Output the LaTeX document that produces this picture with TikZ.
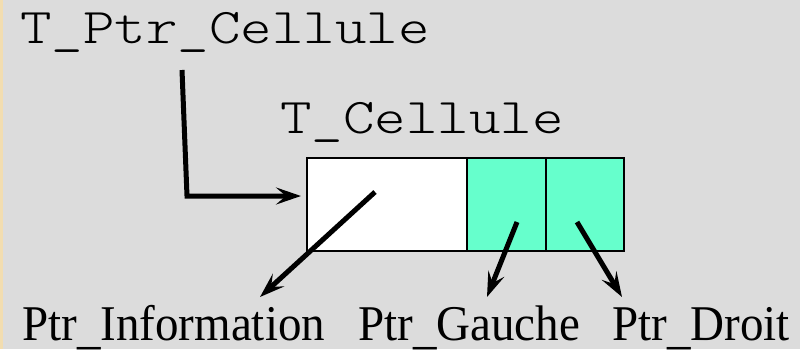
\documentclass[tikz,border=0pt]{standalone}
\usepackage{fontspec}
\setmainfont{Liberation Serif}
\newfontfamily\monof{Latin Modern Mono Light}
\usetikzlibrary{arrows.meta}
\definecolor{bggrey}{HTML}{DCDCDC}
\definecolor{beige}{HTML}{F2DDB0}
\definecolor{cellgreen}{HTML}{66FFCC}
\newcommand{\lowus}{\raisebox{-3pt}{\_}}
\tikzset{
  monolabel/.style={anchor=base west, inner sep=0pt, font=\monof\fontsize{50}{56}\selectfont},
  seriflabel/.style={anchor=base west, inner sep=0pt, font=\fontsize{50}{56}\selectfont},
  cellbox/.style={draw=black, line width=2pt, inner sep=0pt, minimum height=93pt},
  conn/.style={line width=5pt, -{Stealth[length=25pt,width=17pt,inset=10pt]}},
}
\begin{document}
\begin{tikzpicture}[x=1pt,y=-1pt]
\fill[bggrey] (0,0) rectangle (800,349);
\fill[beige] (0,0) rectangle (3,349);
\useasboundingbox (0,0) rectangle (800,349);

\node[monolabel] (tptr) at (20,43) {\scalebox{1.2}[1]{T\_Ptr\_Cellule}};
\node[monolabel] (tcell) at (280,133) {\scalebox{1.2}[1]{T\_Cellule}};

\node[cellbox, fill=white, minimum width=160pt] (cinfo) at (387,204.5) {};
\node[cellbox, fill=cellgreen, minimum width=79pt] (cgauche) at (506.5,204.5) {};
\node[cellbox, fill=cellgreen, minimum width=78pt] (cdroit) at (585,204.5) {};

\node[seriflabel] (linfo) at (22,340) {\scalebox{0.94}[1]{Ptr\lowus Information}};
\node[seriflabel] (lgauche) at (358,340) {\scalebox{0.94}[1]{Ptr\lowus Gauche}};
\node[seriflabel] (ldroit) at (612,340) {\scalebox{0.94}[1]{Ptr\lowus Droit}};

\coordinate (p0) at (182,70);
\coordinate (p1) at (187,196);
\coordinate (p2) at (301,196);
\draw[conn] (p0) -- (p1) -- (p2);

\coordinate (si) at (375,192);
\coordinate (ti) at (260,297);
\draw[conn] (si) -- (ti);
\coordinate (sg) at (517,222);
\coordinate (tg) at (487,297);
\draw[conn] (sg) -- (tg);
\coordinate (sd) at (577,222);
\coordinate (td) at (622,297);
\draw[conn] (sd) -- (td);
\end{tikzpicture}
\end{document}
